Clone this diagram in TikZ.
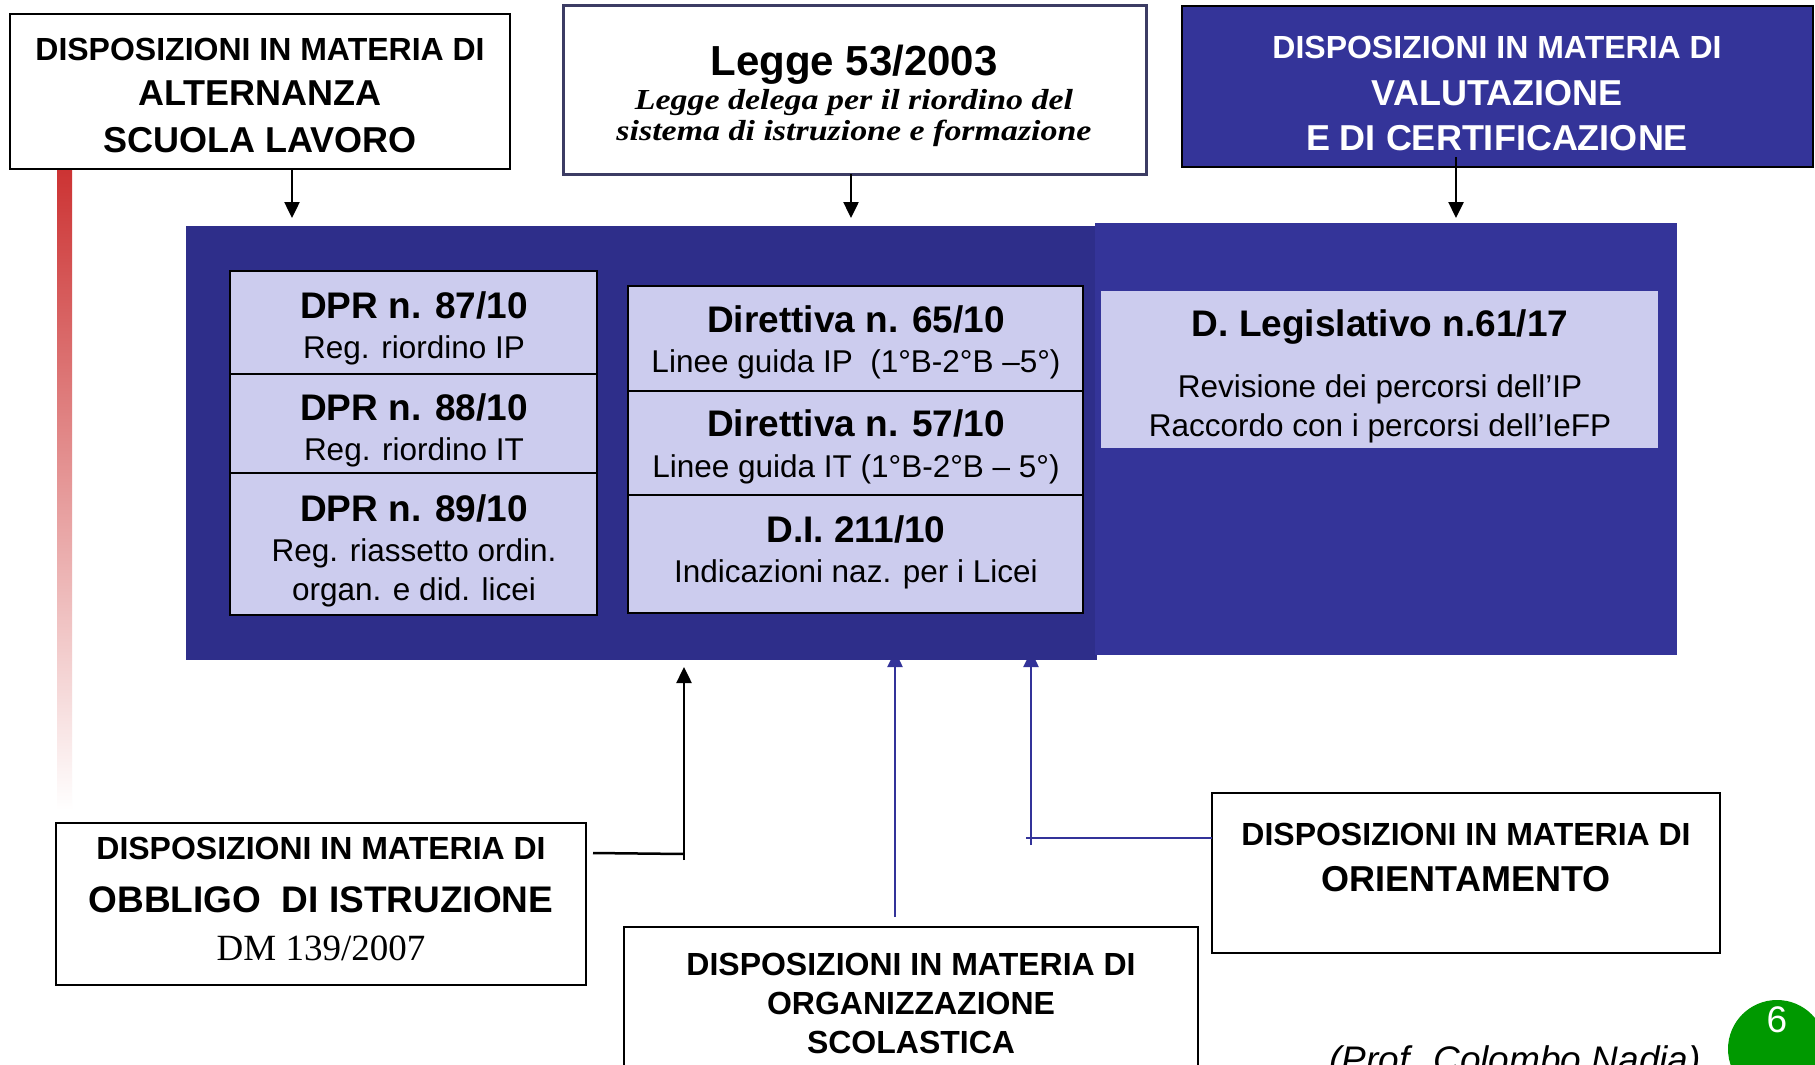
\documentclass[tikz,border=0pt]{standalone}
\usepackage{fontspec}
\setmainfont{Liberation Sans}
\newfontfamily\serifTNR{Liberation Serif}
\newfontfamily\serifGeo[FakeStretch=1.17]{Liberation Serif}
\usetikzlibrary{arrows.meta,fit}
\definecolor{navyL}{RGB}{46,46,138}
\definecolor{navyR}{RGB}{52,52,153}
\definecolor{lav}{RGB}{204,204,238}
\definecolor{leggeborder}{RGB}{60,60,100}
\definecolor{barred}{RGB}{204,51,51}
\definecolor{pgreen}{RGB}{0,153,0}
\definecolor{linkblue}{RGB}{51,51,153}
\newcommand\fsz[1]{\fontsize{#1pt}{#1pt}\selectfont}
\begin{document}
\begin{tikzpicture}[x=1pt,y=-1pt,
  box/.style={inner sep=0pt, outer sep=0pt, draw=black, line width=2pt, fill=white},
  lbox/.style={inner sep=0pt, outer sep=0pt, draw=black, line width=2.5pt, fill=lav},
  area/.style={inner sep=0pt, outer sep=0pt},
  txt/.style={inner sep=0pt, anchor=base, align=center},
  arr/.style={line width=2.5pt, -{Triangle[length=16pt,width=15pt]}},
  ln/.style={line width=2.5pt},
]
\useasboundingbox (0,0) rectangle (1815,1065);
\fill[white] (0,0) rectangle (1815,1065);

% red gradient bar
\shade[top color=barred, bottom color=white] (57,169) rectangle (72,810);

% blue arrows (their tips run under the blue area)
\coordinate (orgS) at (895,917);
\coordinate (orgT) at (895,651);
\draw[arr, linkblue] (orgS) -- (orgT);
\coordinate (oriS) at (1031,845);
\coordinate (oriT) at (1031,651);
\draw[arr, linkblue] (oriS) -- (oriT);

% big blue areas
\node[area, fill=navyL, fit={(186,226) (1097,660)}] (blueL) {};
\node[area, fill=navyR, fit={(1095,223) (1677,655)}] (blueR) {};

% top boxes
\node[box, fit={(10,14) (510,169)}] (alt) {};
\node[txt] (altA) at (260,60) {\fsz{32}\bfseries DISPOSIZIONI IN MATERIA DI};
\node[txt] (altB) at (260,106) {\fsz{36}\bfseries ALTERNANZA};
\node[txt] (altC) at (260,152) {\fsz{36}\bfseries SCUOLA LAVORO};

\node[box, draw=leggeborder, line width=3pt, fit={(563,6) (1146,174)}] (legge) {};
\node[txt] (legA) at (854,76) {\fsz{42}\bfseries Legge 53/2003};
\node[txt] (legB) at (854,109) {\fsz{29}\serifGeo\bfseries\itshape Legge delega per il riordino del};
\node[txt] (legC) at (854,140) {\fsz{29}\serifGeo\bfseries\itshape sistema di istruzione e formazione};

\node[box, fill=navyR, fit={(1182,6) (1813,167)}] (valut) {};
\node[txt, text=white] (valA) at (1497,59) {\fsz{32}\bfseries DISPOSIZIONI IN MATERIA DI};
\node[txt, text=white] (valB) at (1497,105) {\fsz{36}\bfseries VALUTAZIONE};
\node[txt, text=white] (valC) at (1497,150) {\fsz{36}\bfseries E DI CERTIFICAZIONE};

% DPR column
\node[lbox, fit={(230,271) (597,374)}] (dpr87) {};
\node[lbox, fit={(230,374) (597,473)}] (dpr88) {};
\node[lbox, fit={(230,473) (597,615)}] (dpr89) {};
\node[txt] (d87a) at (414,318) {\fsz{37}\bfseries DPR n. 87/10};
\node[txt] (d87b) at (414,358) {\fsz{31.5}Reg. riordino IP};
\node[txt] (d88a) at (414,420) {\fsz{37}\bfseries DPR n. 88/10};
\node[txt] (d88b) at (414,460) {\fsz{31.5}Reg. riordino IT};
\node[txt] (d89a) at (414,521) {\fsz{37}\bfseries DPR n. 89/10};
\node[txt] (d89b) at (414,561) {\fsz{31.5}Reg. riassetto ordin.};
\node[txt] (d89c) at (414,600) {\fsz{31.5}organ. e did. licei};

% Direttiva column
\node[lbox, fit={(628,286) (1083,391)}] (dir65) {};
\node[lbox, fit={(628,391) (1083,495)}] (dir57) {};
\node[lbox, fit={(628,495) (1083,613)}] (di211) {};
\node[txt] (r65a) at (856,332) {\fsz{37}\bfseries Direttiva n. 65/10};
\node[txt] (r65b) at (856,372) {\fsz{31.5}Linee guida IP\ \ (1°B-2°B –5°)};
\node[txt] (r57a) at (856,436) {\fsz{37}\bfseries Direttiva n. 57/10};
\node[txt] (r57b) at (856,477) {\fsz{31.5}Linee guida IT (1°B-2°B – 5°)};
\node[txt] (r211a) at (856,542) {\fsz{37}\bfseries D.I. 211/10};
\node[txt] (r211b) at (856,582) {\fsz{31.5}Indicazioni naz. per i Licei};

% D. Legislativo
\node[area, fill=lav, fit={(1101,291) (1658,448)}] (dleg) {};
\node[txt] (dlA) at (1380,336) {\fsz{37}\bfseries D. Legislativo n.61/17};
\node[txt] (dlB) at (1380,397) {\fsz{31.5}Revisione dei percorsi dell’IP};
\node[txt] (dlC) at (1380,436) {\fsz{31.5}Raccordo con i percorsi dell’IeFP};

% bottom boxes
\node[box, fit={(56,823) (586,985)}] (obb) {};
\node[txt] (obA) at (321,859) {\fsz{32}\bfseries DISPOSIZIONI IN MATERIA DI};
\node[txt] (obB) at (321,912) {\fsz{37}\bfseries OBBLIGO\ \ DI ISTRUZIONE};
\node[txt] (obC) at (321,960) {\fsz{37}\serifTNR DM 139/2007};

\node[box, fit={(624,927) (1198,1085)}] (org) {};
\node[txt] (orgA) at (911,975) {\fsz{32}\bfseries DISPOSIZIONI IN MATERIA DI};
\node[txt] (orgB) at (911,1014) {\fsz{32}\bfseries ORGANIZZAZIONE};
\node[txt] (orgC) at (911,1053) {\fsz{32}\bfseries SCOLASTICA};

\node[box, fit={(1212,793) (1720,953)}] (ori) {};
\node[txt] (oriA) at (1466,845) {\fsz{32}\bfseries DISPOSIZIONI IN MATERIA DI};
\node[txt] (oriB) at (1466,891) {\fsz{36}\bfseries ORIENTAMENTO};

% connectors
\coordinate (altE) at (292,218);
\draw[arr] (alt.south -| altE) -- (altE);
\coordinate (legE) at (851,218);
\draw[arr] (legge.south -| legE) -- (legE);
\coordinate (valS) at (1456,157);
\coordinate (valE) at (1456,218);
\draw[arr] (valS) -- (valE);

\coordinate (obbA) at (593,853);
\coordinate (obbC) at (684,854);
\coordinate (obbB) at (684,860);
\coordinate (obbT) at (684,667);
\draw[ln] (obbA) -- (obbC);
\draw[arr] (obbB) -- (obbT);

\coordinate (oriH) at (1026,838);
\draw[ln, linkblue] (oriH) -- (ori.west |- oriH);

% footer
\node[txt] (prof) at (1515,1072) {\fsz{37}\itshape (Prof. Colombo Nadia)};
\node[circle, fill=pgreen, inner sep=0pt, minimum size=98pt] (pgc) at (1777,1049) {};
\node[txt, text=white] (pgn) at (1777,1032) {\fsz{37}6};
\end{tikzpicture}
\end{document}
